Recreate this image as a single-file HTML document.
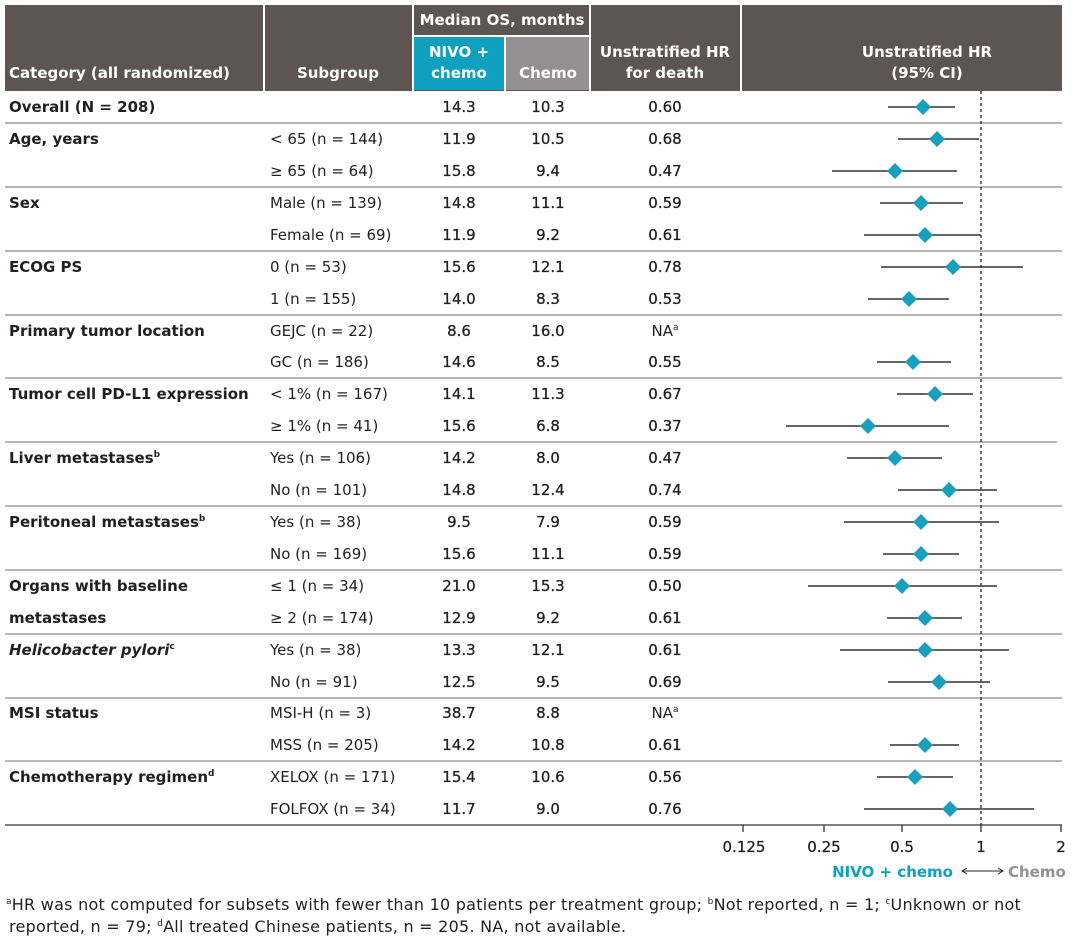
<!DOCTYPE html>
<html><head><meta charset="utf-8"><style>
html,body{margin:0;padding:0;background:#fff}
svg{display:block}
text{font-family:"DejaVu Sans","Liberation Sans",sans-serif;font-size:15px;fill:#231f20}
.b{font-weight:bold}
.h{fill:#fff;font-weight:bold;font-size:15px}
.n{stroke:#231f20;stroke-width:0.3}
.m{text-anchor:middle}
.f{font-size:16px;letter-spacing:0.25px}
</style></head><body>
<svg width="1073" height="941" viewBox="0 0 1073 941">
<rect x="5" y="5" width="1057" height="86" fill="#5d5553"/>
<rect x="414" y="37" width="90" height="53" fill="#0fa0c0"/>
<rect x="506" y="37" width="83" height="53" fill="#929090"/>
<g stroke="#fff" stroke-width="2">
<line x1="264" y1="5" x2="264" y2="91"/><line x1="413" y1="5" x2="413" y2="91"/>
<line x1="590" y1="5" x2="590" y2="91"/><line x1="741" y1="5" x2="741" y2="91"/>
<line x1="413" y1="36" x2="590" y2="36"/><line x1="505" y1="37" x2="505" y2="91"/>
</g>
<text class="h" x="9" y="78">Category (all randomized)</text>
<text class="h m" x="338" y="78">Subgroup</text>
<text class="h m" x="502" y="25">Median OS, months</text>
<text class="h m" x="459" y="57">NIVO +</text><text class="h m" x="459" y="78">chemo</text>
<text class="h m" x="548" y="78">Chemo</text>
<text class="h m" x="665" y="57">Unstratified HR</text><text class="h m" x="665" y="78">for death</text>
<text class="h m" x="927" y="57">Unstratified HR</text><text class="h m" x="927" y="78">(95% CI)</text>
<g stroke="#8a8a8a" stroke-width="1.3">
<line x1="5" y1="123" x2="1062" y2="123"/><line x1="5" y1="187" x2="1062" y2="187"/>
<line x1="5" y1="251" x2="1062" y2="251"/><line x1="5" y1="315" x2="1062" y2="315"/>
<line x1="5" y1="378" x2="1062" y2="378"/><line x1="5" y1="442" x2="1057" y2="442"/>
<line x1="5" y1="506" x2="1062" y2="506"/><line x1="5" y1="570" x2="1062" y2="570"/>
<line x1="5" y1="634" x2="1062" y2="634"/><line x1="5" y1="698" x2="1062" y2="698"/>
<line x1="5" y1="761" x2="1062" y2="761"/>
</g>
<line x1="5" y1="825" x2="1062" y2="825" stroke="#555" stroke-width="1.5"/>
<line x1="981" y1="91" x2="981" y2="825" stroke="#222" stroke-width="1.3" stroke-dasharray="3,3"/>
<g stroke="#333" stroke-width="1.3">
<line x1="743" y1="825" x2="743" y2="832"/><line x1="824" y1="825" x2="824" y2="832"/>
<line x1="902" y1="825" x2="902" y2="832"/><line x1="981" y1="825" x2="981" y2="832"/>
<line x1="1061" y1="825" x2="1061" y2="832"/>
</g>
<text class="n m" x="744" y="852">0.125</text><text class="n m" x="824" y="852">0.25</text>
<text class="n m" x="902" y="852">0.5</text><text class="n m" x="981" y="852">1</text>
<text class="n m" x="1061" y="852">2</text>
<text x="953" y="877" style="fill:#0fa0c0;font-weight:bold;text-anchor:end">NIVO + chemo</text>
<line x1="963" y1="871" x2="1002" y2="871" stroke="#222" stroke-width="1"/>
<path d="M967 868 L962 871 L967 874 M998 868 L1003 871 L998 874" stroke="#222" fill="none"/>
<text x="1008" y="877" style="fill:#929090;font-weight:bold">Chemo</text>
<text class="b" x="9" y="112">Overall (N = 208)</text>
<text class="b" x="9" y="144">Age, years</text>
<text class="b" x="9" y="208">Sex</text>
<text class="b" x="9" y="272">ECOG PS</text>
<text class="b" x="9" y="336">Primary tumor location</text>
<text class="b" x="9" y="399">Tumor cell PD-L1 expression</text>
<text class="b" x="9" y="463">Liver metastases<tspan font-size="9" dy="-6">b</tspan></text>
<text class="b" x="9" y="527">Peritoneal metastases<tspan font-size="9" dy="-6">b</tspan></text>
<text class="b" x="9" y="591">Organs with baseline</text>
<text class="b" x="9" y="623">metastases</text>
<text class="b" x="9" y="655" font-style="italic">Helicobacter pylori<tspan font-size="9" dy="-6" font-style="normal">c</tspan></text>
<text class="b" x="9" y="718">MSI status</text>
<text class="b" x="9" y="782">Chemotherapy regimen<tspan font-size="9" dy="-6">d</tspan></text>
<g>
<text x="270" y="144">&lt; 65 (n = 144)</text><text x="270" y="176">≥ 65 (n = 64)</text>
<text x="270" y="208">Male (n = 139)</text><text x="270" y="240">Female (n = 69)</text>
<text x="270" y="272">0 (n = 53)</text><text x="270" y="304">1 (n = 155)</text>
<text x="270" y="336">GEJC (n = 22)</text><text x="270" y="367">GC (n = 186)</text>
<text x="270" y="399">&lt; 1% (n = 167)</text><text x="270" y="431">≥ 1% (n = 41)</text>
<text x="270" y="463">Yes (n = 106)</text><text x="270" y="495">No (n = 101)</text>
<text x="270" y="527">Yes (n = 38)</text><text x="270" y="559">No (n = 169)</text>
<text x="270" y="591">≤ 1 (n = 34)</text><text x="270" y="623">≥ 2 (n = 174)</text>
<text x="270" y="655">Yes (n = 38)</text><text x="270" y="687">No (n = 91)</text>
<text x="270" y="718">MSI-H (n = 3)</text><text x="270" y="750">MSS (n = 205)</text>
<text x="270" y="782">XELOX (n = 171)</text><text x="270" y="814">FOLFOX (n = 34)</text>
</g>
<g>
<text class="n m" x="459" y="112">14.3</text><text class="n m" x="548" y="112">10.3</text><text class="n m" x="665" y="112">0.60</text>
<text class="n m" x="459" y="144">11.9</text><text class="n m" x="548" y="144">10.5</text><text class="n m" x="665" y="144">0.68</text>
<text class="n m" x="459" y="176">15.8</text><text class="n m" x="548" y="176">9.4</text><text class="n m" x="665" y="176">0.47</text>
<text class="n m" x="459" y="208">14.8</text><text class="n m" x="548" y="208">11.1</text><text class="n m" x="665" y="208">0.59</text>
<text class="n m" x="459" y="240">11.9</text><text class="n m" x="548" y="240">9.2</text><text class="n m" x="665" y="240">0.61</text>
<text class="n m" x="459" y="272">15.6</text><text class="n m" x="548" y="272">12.1</text><text class="n m" x="665" y="272">0.78</text>
<text class="n m" x="459" y="304">14.0</text><text class="n m" x="548" y="304">8.3</text><text class="n m" x="665" y="304">0.53</text>
<text class="n m" x="459" y="336">8.6</text><text class="n m" x="548" y="336">16.0</text><text class="m" x="665" y="336">NA<tspan font-size="9" dy="-6">a</tspan></text>
<text class="n m" x="459" y="367">14.6</text><text class="n m" x="548" y="367">8.5</text><text class="n m" x="665" y="367">0.55</text>
<text class="n m" x="459" y="399">14.1</text><text class="n m" x="548" y="399">11.3</text><text class="n m" x="665" y="399">0.67</text>
<text class="n m" x="459" y="431">15.6</text><text class="n m" x="548" y="431">6.8</text><text class="n m" x="665" y="431">0.37</text>
<text class="n m" x="459" y="463">14.2</text><text class="n m" x="548" y="463">8.0</text><text class="n m" x="665" y="463">0.47</text>
<text class="n m" x="459" y="495">14.8</text><text class="n m" x="548" y="495">12.4</text><text class="n m" x="665" y="495">0.74</text>
<text class="n m" x="459" y="527">9.5</text><text class="n m" x="548" y="527">7.9</text><text class="n m" x="665" y="527">0.59</text>
<text class="n m" x="459" y="559">15.6</text><text class="n m" x="548" y="559">11.1</text><text class="n m" x="665" y="559">0.59</text>
<text class="n m" x="459" y="591">21.0</text><text class="n m" x="548" y="591">15.3</text><text class="n m" x="665" y="591">0.50</text>
<text class="n m" x="459" y="623">12.9</text><text class="n m" x="548" y="623">9.2</text><text class="n m" x="665" y="623">0.61</text>
<text class="n m" x="459" y="655">13.3</text><text class="n m" x="548" y="655">12.1</text><text class="n m" x="665" y="655">0.61</text>
<text class="n m" x="459" y="687">12.5</text><text class="n m" x="548" y="687">9.5</text><text class="n m" x="665" y="687">0.69</text>
<text class="n m" x="459" y="718">38.7</text><text class="n m" x="548" y="718">8.8</text><text class="m" x="665" y="718">NA<tspan font-size="9" dy="-6">a</tspan></text>
<text class="n m" x="459" y="750">14.2</text><text class="n m" x="548" y="750">10.8</text><text class="n m" x="665" y="750">0.61</text>
<text class="n m" x="459" y="782">15.4</text><text class="n m" x="548" y="782">10.6</text><text class="n m" x="665" y="782">0.56</text>
<text class="n m" x="459" y="814">11.7</text><text class="n m" x="548" y="814">9.0</text><text class="n m" x="665" y="814">0.76</text>
</g>
<g stroke="#333" stroke-width="1.5">
<line x1="888" y1="107" x2="955" y2="107"/><line x1="898" y1="139" x2="979" y2="139"/>
<line x1="832" y1="171" x2="957" y2="171"/><line x1="880" y1="203" x2="963" y2="203"/>
<line x1="864" y1="235" x2="981" y2="235"/><line x1="881" y1="267" x2="1023" y2="267"/>
<line x1="868" y1="299" x2="949" y2="299"/><line x1="877" y1="362" x2="951" y2="362"/>
<line x1="897" y1="394" x2="973" y2="394"/><line x1="786" y1="426" x2="949" y2="426"/>
<line x1="847" y1="458" x2="942" y2="458"/><line x1="898" y1="490" x2="997" y2="490"/>
<line x1="844" y1="522" x2="999" y2="522"/><line x1="883" y1="554" x2="959" y2="554"/>
<line x1="808" y1="586" x2="997" y2="586"/><line x1="887" y1="618" x2="962" y2="618"/>
<line x1="840" y1="650" x2="1009" y2="650"/><line x1="888" y1="682" x2="990" y2="682"/>
<line x1="890" y1="745" x2="959" y2="745"/><line x1="877" y1="777" x2="953" y2="777"/>
<line x1="864" y1="809" x2="1034" y2="809"/>
</g>
<g fill="#1a9fbd">
<path d="M923 99l8 8-8 8-8-8z"/><path d="M937 131l8 8-8 8-8-8z"/>
<path d="M895 163l8 8-8 8-8-8z"/><path d="M921 195l8 8-8 8-8-8z"/>
<path d="M925 227l8 8-8 8-8-8z"/><path d="M953 259l8 8-8 8-8-8z"/>
<path d="M909 291l8 8-8 8-8-8z"/><path d="M913 354l8 8-8 8-8-8z"/>
<path d="M935 386l8 8-8 8-8-8z"/><path d="M868 418l8 8-8 8-8-8z"/>
<path d="M895 450l8 8-8 8-8-8z"/><path d="M949 482l8 8-8 8-8-8z"/>
<path d="M921 514l8 8-8 8-8-8z"/><path d="M921 546l8 8-8 8-8-8z"/>
<path d="M902 578l8 8-8 8-8-8z"/><path d="M925 610l8 8-8 8-8-8z"/>
<path d="M925 642l8 8-8 8-8-8z"/><path d="M939 674l8 8-8 8-8-8z"/>
<path d="M925 737l8 8-8 8-8-8z"/><path d="M915 769l8 8-8 8-8-8z"/>
<path d="M950 801l8 8-8 8-8-8z"/>
</g>
<text class="f" x="6" y="910"><tspan font-size="9" dy="-6">a</tspan><tspan dy="6">HR was not computed for subsets with fewer than 10 patients per treatment group; </tspan><tspan font-size="9" dy="-6">b</tspan><tspan dy="6">Not reported, n = 1; </tspan><tspan font-size="9" dy="-6">c</tspan><tspan dy="6">Unknown or not</tspan></text>
<text class="f" x="9" y="932">reported, n = 79; <tspan font-size="9" dy="-6">d</tspan><tspan dy="6">All treated Chinese patients, n = 205. NA, not available.</tspan></text>
</svg>
</body></html>
